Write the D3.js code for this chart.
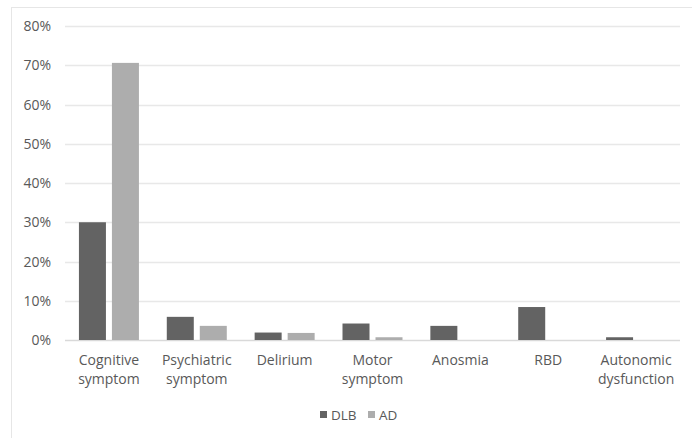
<!DOCTYPE html>
<html>
<head>
<meta charset="utf-8">
<script src="https://cdn.jsdelivr.net/npm/d3@7"></script>
<style>
  body { margin:0; background:#fff; }
  text { font-family: "Open Sans", "DejaVu Sans", sans-serif; fill:#595959; }
</style>
</head>
<body>
<script>
var categories = [["Cognitive","symptom"],["Psychiatric","symptom"],["Delirium"],["Motor","symptom"],["Anosmia"],["RBD"],["Autonomic","dysfunction"]];
var seriesNames = ["DLB","AD"];
var dlbValues = [30.0, 5.9, 1.9, 4.2, 3.6, 8.4, 0.7];
var adValues = [70.6, 3.6, 1.8, 0.7, 0, 0, 0];
var yTicks = [0,10,20,30,40,50,60,70,80];
var colors = ["#636363","#adadad"];

var width = 692, height = 438;
var margins = {left:65, right:12, top:26, bottom:98};

var svg = d3.select("body").append("svg")
  .attr("width",width)
  .attr("height",height);

// outer frame
svg.append("rect")
  .attr("x",11.5).attr("y",7.5)
  .attr("width",width+10).attr("height",height+10)
  .attr("fill","none")
  .attr("stroke","#e6e6e6");

var xScale = d3.scaleBand()
  .domain(d3.range(categories.length))
  .range([margins.left, width-margins.right]);

var yScale = d3.scaleLinear()
  .domain([0,80])
  .range([height-margins.bottom, margins.top]);

// grid
svg.append("g").selectAll("line")
  .data(yTicks)
  .enter().append("line")
  .attr("x1",margins.left).attr("x2",width-margins.right)
  .attr("y1",function(d){ return Math.round(yScale(d))+0.5; })
  .attr("y2",function(d){ return Math.round(yScale(d))+0.5; })
  .attr("stroke",function(d){ return d==0 ? "#d9d9d9" : "#e8e8e8"; })
  .attr("stroke-width",1.3);

svg.append("g").selectAll("text")
  .data(yTicks)
  .enter().append("text")
  .attr("x",51)
  .attr("y",function(d){ return yScale(d)+5; })
  .attr("text-anchor","end")
  .attr("font-size","14px")
  .text(function(d){ return d+"%"; });

var barW = 27, gap = 6;
var allSeries = [dlbValues, adValues];
allSeries.forEach(function(vals,s){
  svg.append("g").selectAll("rect")
    .data(vals)
    .enter().append("rect")
    .attr("x",function(d,i){
      var c = xScale(i)+xScale.bandwidth()/2;
      return s==0 ? c-gap/2-barW : c+gap/2;
    })
    .attr("y",function(d){ return yScale(d); })
    .attr("width",barW)
    .attr("height",function(d){ return yScale(0)-yScale(d); })
    .attr("fill",colors[s]);
});

// category labels
var labels = svg.append("g").selectAll("text")
  .data(categories)
  .enter().append("text")
  .attr("text-anchor","middle")
  .attr("font-size","14px")
  .attr("x",function(d,i){ return xScale(i)+xScale.bandwidth()/2; })
  .attr("y",365);
labels.each(function(d){
  var t = d3.select(this);
  d.forEach(function(line,k){
    t.append("tspan")
      .attr("x",t.attr("x"))
      .attr("dy",k==0 ? 0 : 19)
      .text(line);
  });
});

// legend
var legendX = [320, 368];
seriesNames.forEach(function(name,i){
  svg.append("rect")
    .attr("x",legendX[i]).attr("y",411)
    .attr("width",7).attr("height",7)
    .attr("fill",colors[i]);
  svg.append("text")
    .attr("x",legendX[i]+11).attr("y",419.5)
    .attr("font-size","13.5px")
    .text(name);
});
</script>
</body>
</html>
